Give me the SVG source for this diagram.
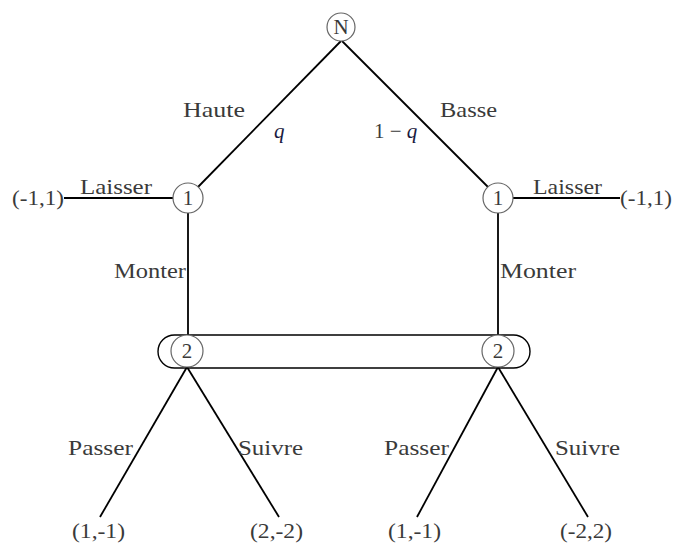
<svg xmlns="http://www.w3.org/2000/svg" width="674" height="544" viewBox="0 0 674 544">
  <style>
    .edge { stroke: #000; stroke-width: 1.8; fill: none; }
    .node { fill: #fff; stroke: #666; stroke-width: 1.2; }
    .info { fill: none; stroke: #000; stroke-width: 1.4; }
    text { font-family: "Liberation Serif", "DejaVu Serif", serif; font-size: 21px; fill: #3a3a3a; }
    .nl { text-anchor: middle; }
    .math { font-style: italic; fill: #1a1a40; }
  </style>
  <rect width="674" height="544" fill="#fff"/>

  <!-- branches of the tree -->
  <g id="connectors">
    <line class="edge" x1="341" y1="41" x2="198" y2="187"/>
    <line class="edge" x1="342" y1="41" x2="488" y2="187"/>
    <line class="edge" x1="64" y1="198" x2="173" y2="198"/>
    <line class="edge" x1="513" y1="198" x2="620" y2="198"/>
    <line class="edge" x1="188" y1="213" x2="188" y2="335"/>
    <line class="edge" x1="498" y1="213" x2="498" y2="335"/>
    <line class="edge" x1="187" y1="367" x2="100" y2="517"/>
    <line class="edge" x1="187" y1="367" x2="279" y2="517"/>
    <line class="edge" x1="498" y1="367" x2="417" y2="517"/>
    <line class="edge" x1="498" y1="367" x2="588" y2="517"/>
    <!-- information set joining both decision nodes of player 2 -->
    <rect class="info" x="158" y="335" width="372" height="33" rx="16.5" ry="16.5"/>
  </g>

  <g id="nature">
    <circle class="node" cx="341" cy="27" r="14"/>
    <text class="nl" x="341" y="34">N</text>
  </g>

  <g id="p1-left">
    <circle class="node" cx="188" cy="198" r="15"/>
    <text class="nl" x="188" y="205">1</text>
  </g>

  <g id="p1-right">
    <circle class="node" cx="498" cy="198" r="15"/>
    <text class="nl" x="498" y="205">1</text>
  </g>

  <g id="p2-left">
    <circle class="node" cx="187" cy="351" r="16"/>
    <text class="nl" x="187" y="358">2</text>
  </g>

  <g id="p2-right">
    <circle class="node" cx="498" cy="351" r="16"/>
    <text class="nl" x="498" y="358">2</text>
  </g>

  <!-- branch labels -->
  <g id="labels">
    <text x="183" y="117" textLength="62" lengthAdjust="spacingAndGlyphs">Haute</text>
    <text x="440" y="117" textLength="57" lengthAdjust="spacingAndGlyphs">Basse</text>
    <text class="math" x="274" y="138">q</text>
    <text x="374" y="138">1 − <tspan class="math">q</tspan></text>
    <text x="80" y="194" textLength="72" lengthAdjust="spacingAndGlyphs">Laisser</text>
    <text x="533" y="194" textLength="69" lengthAdjust="spacingAndGlyphs">Laisser</text>
    <text x="114" y="278" textLength="72" lengthAdjust="spacingAndGlyphs">Monter</text>
    <text x="500" y="278" textLength="76" lengthAdjust="spacingAndGlyphs">Monter</text>
    <text x="68" y="455" textLength="65" lengthAdjust="spacingAndGlyphs">Passer</text>
    <text x="238" y="455" textLength="65" lengthAdjust="spacingAndGlyphs">Suivre</text>
    <text x="384" y="455" textLength="65" lengthAdjust="spacingAndGlyphs">Passer</text>
    <text x="555" y="455" textLength="65" lengthAdjust="spacingAndGlyphs">Suivre</text>
  </g>

  <!-- payoffs -->
  <g id="payoffs">
    <text x="12" y="205" textLength="52" lengthAdjust="spacingAndGlyphs">(-1,1)</text>
    <text x="620" y="205" textLength="52" lengthAdjust="spacingAndGlyphs">(-1,1)</text>
    <text x="72" y="538" textLength="53" lengthAdjust="spacingAndGlyphs">(1,-1)</text>
    <text x="250" y="538" textLength="53" lengthAdjust="spacingAndGlyphs">(2,-2)</text>
    <text x="388" y="538" textLength="53" lengthAdjust="spacingAndGlyphs">(1,-1)</text>
    <text x="560" y="538" textLength="52" lengthAdjust="spacingAndGlyphs">(-2,2)</text>
  </g>
</svg>
